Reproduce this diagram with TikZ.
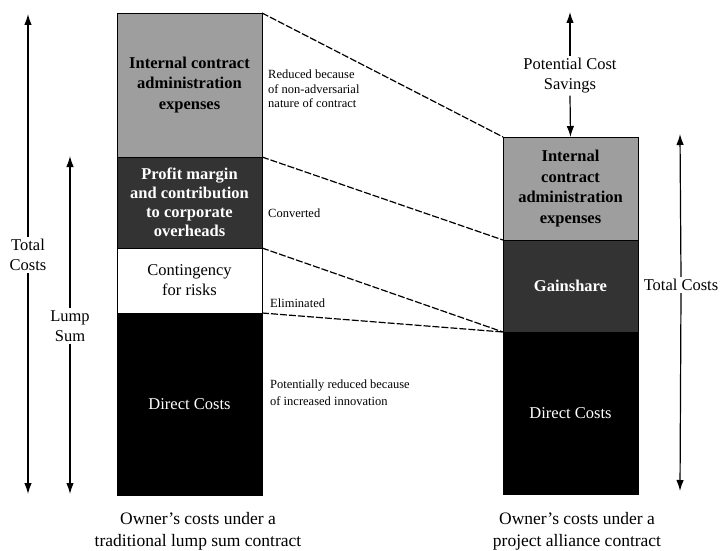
\documentclass[tikz,border=0pt]{standalone}
\usepackage{fontspec}
\setmainfont{Liberation Serif}
\usetikzlibrary{positioning,arrows.meta}

\definecolor{shadegray}{gray}{0.62}
\definecolor{darkshade}{gray}{0.2}

\begin{document}
\begin{tikzpicture}[x=1pt,y=-1pt,
    >={Latex[length=11pt,width=7.5pt]},
    barnode/.style={rectangle, draw=black, line width=0.8pt, outer sep=0pt, inner sep=2pt, align=center},
    graynode/.style={barnode, fill=shadegray, font=\fontsize{16.5}{20.5}\selectfont\bfseries},
    darknode/.style={barnode, fill=darkshade, text=white, font=\fontsize{16.5}{19}\selectfont\bfseries},
    whitenode/.style={barnode, fill=white, font=\fontsize{16.5}{20}\selectfont},
    blacknode/.style={barnode, fill=black, text=white, font=\fontsize{16.5}{20}\selectfont},
    labelnode/.style={rectangle, fill=white, inner sep=2pt, align=center, font=\fontsize{16.5}{20}\selectfont},
    notenode/.style={rectangle, inner sep=0pt, anchor=west, align=left, font=\fontsize{12.5}{14.5}\selectfont},
    captionnode/.style={rectangle, inner sep=0pt, align=center, font=\fontsize{17.5}{22}\selectfont},
    dashline/.style={line width=1.2pt, dash pattern=on 7pt off 2pt}
   ]
   \useasboundingbox (0,0) rectangle (720,551);

   % left bar
   \node[graynode, minimum width=145pt, minimum height=144pt] (lgray) at (189.5,85) {Internal contract\\administration\\expenses};
   \node[darknode, minimum width=145pt, minimum height=91pt] (ldark) [below=0pt of lgray] {Profit margin\\and contribution\\to corporate\\overheads};
   \node[whitenode, minimum width=145pt, minimum height=65pt] (lwhite) [below=0pt of ldark] {Contingency\\for risks};
   \node[blacknode, minimum width=145pt, minimum height=182pt] (lblack) [below=0pt of lwhite] {Direct Costs};

   % right bar
   \node[graynode, minimum width=135pt, minimum height=103pt] (rgray) at (570.5,188.5) {Internal\\contract\\administration\\expenses};
   \node[darknode, minimum width=135pt, minimum height=92pt] (rdark) [below=0pt of rgray] {Gainshare};
   \node[blacknode, minimum width=135pt, minimum height=162pt] (rblack) [below=0pt of rdark] {Direct Costs};

   % side arrows
   \node[labelnode] (ltotal) at (28,255) {Total\\Costs};
   \coordinate (ltotaltop) at (28,14);
   \coordinate (ltotalbot) at (28,494);
   \node[labelnode] (lumpsum) at (70,326) {Lump\\Sum};
   \coordinate (lumpsumtop) at (70,156);
   \coordinate (lumpsumbot) at (70,494);
   \node[labelnode] (rtotal) at (681,285) {Total Costs};
   \coordinate (rtotaltop) at (680,134);
   \coordinate (rtotalbot) at (680,491);
   \node[labelnode] (savings) at (570,76) {Potential Cost\\Savings};
   \coordinate (savingstop) at (570,12);

  \draw[->, line width=1.2pt] (ltotal.north) -- (ltotaltop);
  \draw[->, line width=1.2pt] (ltotal.south) -- (ltotalbot);
  \draw[->, line width=1.2pt] (lumpsum.north) -- (lumpsumtop);
  \draw[->, line width=1.2pt] (lumpsum.south) -- (lumpsumbot);
  \draw[->, line width=1.2pt] (rtotal.north) -- (rtotaltop);
  \draw[->, line width=1.2pt] (rtotal.south) -- (rtotalbot);
  \draw[->, line width=1.2pt] (savings.north) -- (savingstop);
  \draw[->, line width=1.2pt] (savings.south) -- (rgray.north);

  % dashed links
  \draw[dashline] (lgray.north east) -- (rgray.north west);
  \draw[dashline] (ldark.north east) -- (rdark.north west);
  \draw[dashline] (lwhite.north east) -- (rblack.north west);
  \draw[dashline] (lblack.north east) -- (rblack.north west);

   % notes
   \node[notenode] (reduced) at (268,89) {Reduced because\\of non-adversarial\\nature of contract};
   \node[notenode] (converted) at (268,213) {Converted};
   \node[notenode] (eliminated) at (270,303) {Eliminated};
   \node[notenode, font=\fontsize{12.5}{17}\selectfont] (innovation) at (270,393) {Potentially reduced because\\of increased innovation};

   % captions
   \node[captionnode] (lcaption) at (198,531) {Owner's costs under a\\traditional lump sum contract};
   \node[captionnode] (rcaption) at (577,531) {Owner's costs under a\\project alliance contract};
 \end{tikzpicture}
\end{document}
